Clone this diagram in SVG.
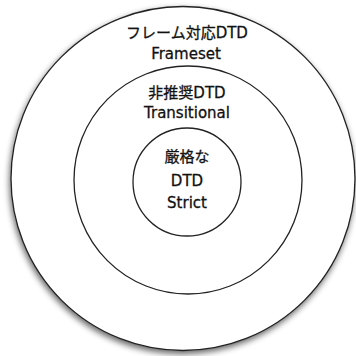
<svg xmlns="http://www.w3.org/2000/svg" width="356" height="356" viewBox="0 0 356 356">
<style>
.ring{fill:#fff;stroke:#222;stroke-width:1.3}
.t{font-family:"DejaVu Sans","Noto Sans CJK JP",sans-serif;font-size:15px;fill:#111;stroke:#111;stroke-width:0.3;text-anchor:middle}
</style>
<defs>
<filter id="sh" x="-10%" y="-10%" width="120%" height="125%">
<feGaussianBlur in="SourceAlpha" stdDeviation="3"/>
<feOffset dx="-1.5" dy="3" result="b"/>
<feComponentTransfer><feFuncA type="linear" slope="0.6"/></feComponentTransfer>
<feMerge><feMergeNode/><feMergeNode in="SourceGraphic"/></feMerge>
</filter>
</defs>
<rect width="356" height="356" fill="#fff"/>
<g id="frameset">
<circle class="ring" cx="183" cy="178.5" r="172" filter="url(#sh)"/>
<text class="t" x="187" y="38">フレーム対応DTD</text>
<text class="t" x="186" y="59">Frameset</text>
</g>
<g id="transitional">
<circle class="ring" cx="188" cy="180" r="114"/>
<text class="t" x="187" y="98">非推奨DTD</text>
<text class="t" x="187" y="118">Transitional</text>
</g>
<g id="strict">
<circle class="ring" cx="187" cy="182" r="54"/>
<text class="t" x="187" y="162">厳格な</text>
<text class="t" x="187" y="186">DTD</text>
<text class="t" x="187" y="208">Strict</text>
</g>
<g id="connectors"></g>
</svg>
